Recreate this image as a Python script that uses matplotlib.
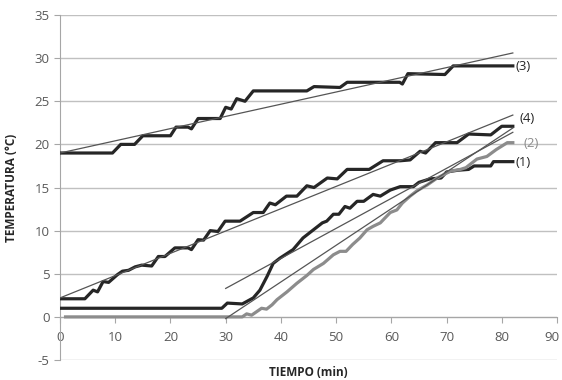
import matplotlib
matplotlib.use("Agg")
import matplotlib.pyplot as plt
from matplotlib.transforms import ScaledTranslation

# ---- data ----
t3 = [0, 9.5, 11, 13.5, 15, 20, 21, 23.2, 23.8, 25, 29, 30, 31, 32, 33.5, 35, 44.7, 46, 50.7, 52, 61.5, 62, 63, 69.7, 71.2, 82]
y3 = [19, 19, 20, 20, 21, 21, 22, 22, 21.8, 23, 23, 24.3, 24.1, 25.3, 25, 26.2, 26.2, 26.7, 26.6, 27.2, 27.2, 27.0, 28.2, 28.1, 29.1, 29.1]

t4 = [0, 4.5, 6, 6.8, 7.8, 8.8, 10.4, 11.3, 12.4, 13.6, 14.8, 16.6, 17.8, 19, 20.8, 23.2, 23.8, 25, 26,
      27.2, 28.6, 29.9, 32.6, 35, 36.8, 38, 39, 41, 42.9, 44.7, 46, 48.4, 50.2, 52, 56, 58.5, 61.6,
      63.4, 65.2, 66.2, 68, 71.9, 74, 78, 80, 82]
y4 = [2.1, 2.1, 3.1, 2.9, 4.1, 4.0, 4.9, 5.3, 5.4, 5.8, 6.0, 5.9, 7.0, 7.0, 8.0, 8.0, 7.8, 8.95, 8.9,
      10.0, 9.9, 11.1, 11.1, 12.1, 12.1, 13.2, 13.0, 14.0, 14.0, 15.2, 15.0, 16.1, 16.0, 17.1, 17.1, 18.1, 18.1,
      18.2, 19.2, 19.0, 20.2, 20.2, 21.2, 21.1, 22.1, 22.1]

t1 = [0, 29.3, 30.3, 33, 35, 36.2, 37.5, 38.6, 39.8, 42.2, 44, 45.9, 47.5, 48.3, 49.5, 50.5, 51.6, 52.5,
      53.8, 55, 56.7, 58, 59.8, 61.6, 64, 65, 67, 69, 70, 72, 74, 75, 78, 78.5, 82]
y1 = [1, 1, 1.6, 1.5, 2.2, 3.1, 4.7, 6.2, 6.8, 7.8, 9.15, 10.1, 10.9, 11.1, 11.9, 11.9, 12.8, 12.6,
      13.4, 13.4, 14.2, 14.0, 14.7, 15.1, 15.1, 15.6, 16.0, 16.1, 16.8, 17.0, 17.1, 17.5, 17.5, 18.0, 18.0]

t2 = [1, 33, 33.8, 34.7, 35.6, 36.5, 37.4, 38.4, 39.3, 41.1, 42.9, 44.7, 45.9, 47.7, 49.5, 50.7, 51.8,
      53, 54.3, 55.6, 56.7, 58, 59.8, 61, 62, 63.4, 64.6, 66.5, 68.3, 70.7, 72.5, 73.5, 75.5, 77.3, 79, 81, 82]
y2 = [0, 0, 0.35, 0.2, 0.6, 1.0, 0.9, 1.4, 2.0, 2.9, 3.9, 4.8, 5.5, 6.2, 7.2, 7.6, 7.6,
      8.4, 9.15, 10.1, 10.5, 10.9, 12.1, 12.4, 13.2, 14.0, 14.6, 15.3, 16.1, 16.9, 17.1, 17.3, 18.3, 18.6, 19.4, 20.2, 20.2]

# linear trendlines (end points)
trend3_x, trend3_y = [0, 82], [19.0, 30.6]
trend4_x, trend4_y = [0, 82], [2.2, 23.4]
trend1_x, trend1_y = [30, 82], [3.3, 21.4]
trend2_x, trend2_y = [30, 82], [-0.2, 21.9]

series_labels = ["(3)", "(4)", "(2)", "(1)"]
label_x = [82.4, 83.2, 84.0, 82.4]
label_y = [29.0, 23.0, 20.1, 17.9]

x_ticks = [0, 10, 20, 30, 40, 50, 60, 70, 80, 90]
y_ticks = [-5, 0, 5, 10, 15, 20, 25, 30, 35]

# ---- drawing ----
plt.rcParams['font.family'] = ['Open Sans', 'DejaVu Sans']
plt.rcParams['axes.unicode_minus'] = False
fig = plt.figure(figsize=(5.62, 3.80), dpi=100)
ax = fig.add_axes([0.1068, 0.0526, 0.8843, 0.9079])

dark = '#262626'
gray = '#8c8c8c'
trend_c = '#555555'

ax.plot(t3, y3, color=dark, lw=2.3, solid_joinstyle='round', zorder=3)
ax.plot(t4, y4, color=dark, lw=2.3, solid_joinstyle='round', zorder=3)
ax.plot(t1, y1, color=dark, lw=2.3, solid_joinstyle='round', zorder=3)
ax.plot(t2, y2, color=gray, lw=2.3, solid_joinstyle='round', zorder=3)

for tx, ty in [(trend3_x, trend3_y), (trend4_x, trend4_y), (trend1_x, trend1_y), (trend2_x, trend2_y)]:
    ax.plot(tx, ty, color=trend_c, lw=0.9, zorder=4)

label_colors = [dark, dark, gray, dark]
for s, lx, ly, c in zip(series_labels, label_x, label_y, label_colors):
    ax.text(lx, ly, s, color=c, fontsize=9.5, va='center', ha='left')

ax.set_xlim(0, 90)
ax.set_ylim(-5, 35)
ax.set_xticks(x_ticks)
ax.set_yticks(y_ticks)
ax.grid(axis='y', color='#c0c0c0', lw=1.0)
ax.set_axisbelow(True)

for sp in ['top', 'right']:
    ax.spines[sp].set_visible(False)
ax.spines['bottom'].set_position(('data', 0))
ax.spines['bottom'].set_color('#a6a6a6')
ax.spines['left'].set_color('#a6a6a6')
ax.tick_params(axis='both', colors='#a6a6a6', labelcolor='#595959', labelsize=9.5, length=4)
ax.tick_params(axis='x', pad=6)

# keep the last x tick label inside the figure
last = ax.get_xticklabels()[-1]
last.set_transform(last.get_transform() + ScaledTranslation(-5 / 100, 0, fig.dpi_scale_trans))

fig.text(308 / 562, 1 - 373 / 380, 'TIEMPO (min)', fontsize=8.5, fontweight='bold',
         color='#262626', ha='center', va='center')
ax.set_ylabel('TEMPERATURA (°C)', fontsize=8.5, fontweight='bold', color='#262626')
ax.yaxis.set_label_coords(-0.085, 0.5)

fig.savefig('out.png', dpi=100)
